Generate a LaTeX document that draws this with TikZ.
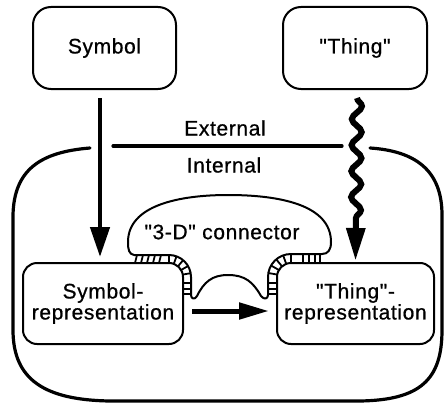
\documentclass[tikz,border=0pt]{standalone}
\usepackage{fontspec}
\newfontfamily\lbl[LetterSpace=3,FakeBold=0.8]{Liberation Sans}
\usetikzlibrary{arrows.meta,decorations.pathmorphing}

\begin{document}
\begin{tikzpicture}[x=1pt,y=-1pt,
  txt/.style={font=\lbl\fontsize{21}{21}\selectfont,inner sep=0pt,align=center},
  box/.style={txt,draw,line width=2pt,rounded corners=14pt},
  topbox/.style={box,rounded corners=18pt},
  rim/.style={line width=3.2pt,line cap=round},
  outline/.style={line width=2pt,line join=round},
  hatch/.style={line width=1.8pt},
  fatarrow/.style={line width=4.5pt,-{Triangle[length=30pt,width=19pt]}},
  flatarrow/.style={line width=5pt,-{Triangle[length=30pt,width=16pt]}},
  wavy/.style={line width=6pt,-{Triangle[length=33pt,width=18pt]},
    decorate,decoration={snake,segment length=26pt,amplitude=5pt,post length=40pt}}]

\useasboundingbox (0,0) rectangle (444,404);

% outer things and their inner representations
\node[topbox,minimum width=143pt,minimum height=82pt] (sym) at (104.5,48) {Symbol};
\node[topbox,minimum width=144pt,minimum height=82pt] (thing) at (355,48) {"Thing"};
\node[box,minimum width=160pt,minimum height=81pt] (symrep) at (103,303.5) {Symbol-\\representation};
\node[box,minimum width=157pt,minimum height=81pt] (thingrep) at (355.5,303.5) {"Thing"-\\representation};

% boundary between outside and inside
\draw[rim] (113,146) -- (342,146);
\node[txt] (ext) at (225,128) {External};
\node[txt] (int) at (224,165) {Internal};
\draw[rim] (90,148) .. controls (40,152) and (14,170) .. (13,215)
  -- (13,330) .. controls (13,380) and (45,400) .. (110,401)
  -- (360,401) .. controls (420,400) and (442,380) .. (442,330)
  -- (442,215) .. controls (442,170) and (415,151) .. (370,148);

% the "3-D" connector: dome, flared feet and the bump between the boxes
\draw[outline] (134,255) .. controls (129,254) and (128,250) .. (128,242)
  .. controls (128,205) and (180,195) .. (228,195)
  .. controls (280,195) and (331,205) .. (331,242)
  .. controls (331,250) and (328,254) .. (322,254)
  -- (291,254) .. controls (278.3,254) and (268,264.3) .. (268,277)
  -- (268,295) .. controls (268,299) and (264,300) .. (261,296)
  .. controls (253,282) and (245,275) .. (228,275)
  .. controls (212,275) and (204,282) .. (197,296)
  .. controls (195,300) and (191,299) .. (191,295)
  -- (191,277) .. controls (191,264.9) and (181.1,255) .. (169,255) -- (134,255);
\node[txt] (conn) at (222,232) {"3-D" connector};

% hatching where the connector wraps the box corners
\foreach \x in {135,141,147,153,159}
  \draw[hatch] (\x,263) -- (\x+2,255);
\foreach \a in {90,70,50,30,10}
  \draw[hatch] ({169+14*cos(\a)},{277-14*sin(\a)}) -- ({169+22*cos(\a)},{277-22*sin(\a)});
\foreach \y in {283,289,294}
  \draw[hatch] (183,\y) -- (191,\y);
\foreach \x in {303,309,315,320}
  \draw[hatch] (\x,263) -- (\x,254);
\foreach \a in {90,110,130,150,170}
  \draw[hatch] ({291+14*cos(\a)},{277-14*sin(\a)}) -- ({291+23*cos(\a)},{277-23*sin(\a)});
\foreach \y in {283,289,294}
  \draw[hatch] (268,\y) -- (277,\y);

% connections
\coordinate (symfoot) at ([xshift=-4.5pt]sym.south);
\draw[fatarrow,shorten <=8pt,shorten >=5pt] (symfoot) -- (symfoot |- symrep.north);
\coordinate (wtop) at ([xshift=2pt,yshift=-8pt]thing.south);
\coordinate (wtip) at ([yshift=1pt]thingrep.north);
\draw[wavy] (wtop) -- (wtip);
\draw[flatarrow,shorten <=8pt,shorten >=7pt] ([yshift=-7.5pt]symrep.east) -- ([yshift=-7.5pt]thingrep.west);

\end{tikzpicture}
\end{document}
